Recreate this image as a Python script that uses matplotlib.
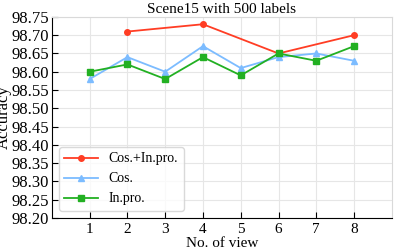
import matplotlib.pyplot as plt

plt.rcParams['font.family'] = ['Liberation Serif', 'DejaVu Serif']

views = [1, 2, 3, 4, 5, 6, 7, 8]
x_both = [2, 4, 6, 8]
acc_both = [98.71, 98.73, 98.65, 98.70]
acc_cos = [98.58, 98.64, 98.60, 98.67, 98.61, 98.64, 98.65, 98.63]
acc_inpro = [98.60, 98.62, 98.58, 98.64, 98.59, 98.65, 98.63, 98.67]
yticks = [98.20, 98.25, 98.30, 98.35, 98.40, 98.45, 98.50, 98.55, 98.60, 98.65, 98.70, 98.75]

fig = plt.figure(figsize=(3.99, 2.49), dpi=100)
ax = fig.add_axes([0.130, 0.125, 0.852, 0.807])

ax.plot(x_both, acc_both, '-o', color='#ff3d24', ms=4, lw=1.3, label='Cos.+In.pro.')
ax.plot(views, acc_cos, '-^', color='#7cbcff', ms=4, lw=1.3, label='Cos.')
ax.plot(views, acc_inpro, '-s', color='#22b022', ms=4, lw=1.3, label='In.pro.')

ax.set_xlim(0, 9)
ax.set_ylim(98.20, 98.75)
ax.set_xticks(views)
ax.set_yticks(yticks)
ax.set_yticklabels(['%.2f' % v for v in yticks])
ax.tick_params(direction='in', length=4, width=0.8)
ax.tick_params(axis='y', labelsize=12, pad=2)
ax.tick_params(axis='x', labelsize=11)
ax.grid(True, color='#e6e6e6', lw=0.8)
ax.set_axisbelow(True)
for s in ['top', 'right']:
    ax.spines[s].set_color('#d9d9d9')

ax.set_title('Scene15 with 500 labels', fontsize=11, pad=3)
ax.set_xlabel('No. of view', fontsize=11, labelpad=1)
ax.set_ylabel('Accuracy', fontsize=12, labelpad=0)
ax.legend(loc='lower left', bbox_to_anchor=(0.0, 0.0), fontsize=10, frameon=True,
          edgecolor='#d0d0d0', handlelength=2.4)

fig.savefig('out.png', dpi=100)
